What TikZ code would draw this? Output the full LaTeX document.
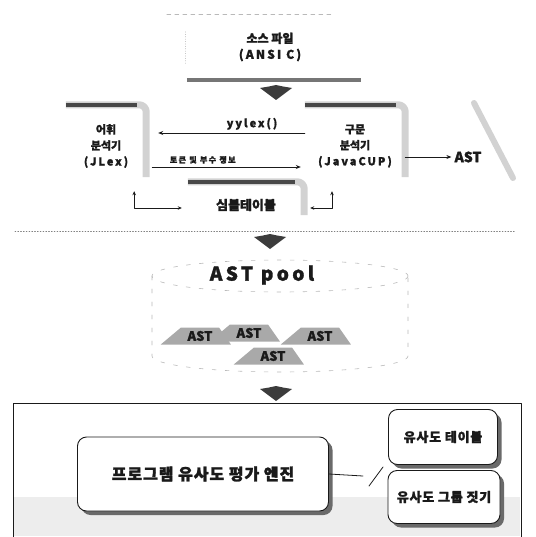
\documentclass[tikz,border=0pt]{standalone}
\usepackage{fontspec}
\setmainfont{Noto Sans CJK KR}[BoldFeatures={FakeBold=1.6}]
\newfontfamily\widelat{Noto Sans CJK KR}[LetterSpace=18, BoldFeatures={FakeBold=1.6}]
\newfontfamily\widekr{Noto Sans CJK KR}[LetterSpace=6, BoldFeatures={FakeBold=1.6}]
\usetikzlibrary{arrows.meta,shapes.geometric,shadows}
\definecolor{ink}{HTML}{1A1A1A}
\definecolor{shade}{HTML}{9A9A9A}
\tikzset{
  every picture/.style={
    line join=round,
    line cap=round,
    >=Stealth,
  },
  txt/.style={font=\bfseries\fontsize{11}{16}\selectfont, align=center, inner sep=0pt, text=ink},
  bevtop/.style={line width=4pt, ink!80, line cap=butt},
  bevside/.style={line width=7pt, shade!45, rounded corners=7pt, line cap=butt},
  link/.style={ink, line width=0.8pt, -{Stealth[length=5pt,width=4pt]}},
  elbow/.style={ink, line width=0.8pt, {Stealth[length=4pt,width=3.5pt]}-{Stealth[length=4pt,width=3.5pt]}},
  pool/.style={gray!55, line width=0.6pt, dash pattern=on 4pt off 9pt},
  pile/.style={trapezium, trapezium left angle=40, trapezium right angle=55, fill=shade!85,
    minimum width=52pt, minimum height=17pt, inner sep=1pt, text=ink,
    font=\bfseries\fontsize{13}{13}\selectfont},
  rbox/.style={draw=ink, line width=0.9pt, rounded corners=9pt, fill=white, align=center,
    text=ink, inner sep=0pt,
    drop shadow={shadow xshift=4pt, shadow yshift=-4pt, fill=ink!65, opacity=1}},
  downchev/.pic={\fill[ink!85] (-16,0) -- (-7,-1.5) -- (0,-3) -- (7,-1.5) -- (16,0) -- (0,12) -- cycle;},
}

\begin{document}
\begin{tikzpicture}[x=1pt,y=-1pt]
\useasboundingbox (0,0) rectangle (535,537);

\node[txt, font=\bfseries\fontsize{12}{16}\selectfont, minimum width=182pt, minimum height=66pt] (src) at (270,47) {소스 파일\\{\widelat\bfseries (ANSI C)}};
\draw[gray!55, dash pattern=on 4pt off 4pt, thin] ([xshift=-12pt]src.north west) -- ([xshift=-28pt]src.north east);
\draw[gray!55, dotted] ([xshift=6pt,yshift=-18pt]src.north west) -- ([xshift=6pt,yshift=16pt]src.south west);
\draw[bevtop, ink!60] ([xshift=8pt]src.south west) -- (src.south east);
\pic at (276,88) {downchev};

\node[txt, minimum width=80pt, minimum height=82pt] (lexer) at (106,146) {어휘\\분석기\\{\widelat\bfseries (JLex)}};
\draw[bevside] (lexer.north west) -- (lexer.north east) -- ([yshift=10pt]lexer.south east);
\draw[bevtop] (lexer.north west) -- ([xshift=-9pt]lexer.north east);

\node[txt, minimum width=100pt, minimum height=82pt] (parser) at (355,146) {구문\\분석기\\{\widelat\bfseries (JavaCUP)}};
\draw[bevside] (parser.north west) -- (parser.north east) -- ([yshift=10pt]parser.south east);
\draw[bevtop] (parser.north west) -- ([xshift=-9pt]parser.north east);

\node[txt, font=\bfseries\fontsize{13}{13}\selectfont, minimum width=116pt, minimum height=46pt] (sym) at (246,205) {심볼테이블};
\draw[bevside] (sym.north west) -- (sym.north east) -- ([yshift=13pt]sym.south east);
\draw[bevtop] (sym.north west) -- ([xshift=-9pt]sym.north east);

\draw[link] ([yshift=13pt]parser.west) -- ([xshift=12pt,yshift=13pt]lexer.east)
  node[pos=0.36, above=3pt, txt, font=\fontsize{11}{11}\selectfont\widelat\bfseries] (yy) {yylex()};
\draw[link] ([xshift=6pt,yshift=-21pt]lexer.east) -- ([xshift=-4pt,yshift=-21pt]parser.west)
  node[pos=0.34, above=3pt, txt, font=\fontsize{8}{8}\selectfont\widelat\bfseries] (tok) {토큰 및 부수 정보};
\draw[elbow] ([xshift=-12pt,yshift=-4pt]lexer.south east) |- ([xshift=-6pt,yshift=-3pt]sym.west);
\draw[elbow] ([xshift=-23pt,yshift=-4pt]parser.south) |- ([xshift=6pt,yshift=-3pt]sym.east);

\node[txt, font=\bfseries\fontsize{14}{14}\selectfont] (astout) at (468,157) {AST};
\draw[link, shorten >=3pt] (parser.east |- astout.west) -- (astout.west);
\draw[shade!45, line width=6pt] (474,103) -- (513,178);

\draw[gray, dotted, line width=0.8pt] (15,231) -- (515,231);
\pic at (270,237) {downchev};

\draw[pool] (280,276) ellipse [x radius=128, y radius=16];
\draw[pool] (152,276) -- (152,356) arc[start angle=180, end angle=0, x radius=128, y radius=16] -- (408,276);
\node[txt, font=\fontsize{19}{19}\selectfont\widelat\bfseries] (poolname) at (262,275) {AST pool};
\node[pile] (ast1) at (200,336) {AST};
\node[pile] (ast2) at (249,333) {AST};
\node[pile] (ast3) at (320,336) {AST};
\node[pile] (ast4) at (273,356) {AST};
\pic at (276,389) {downchev};

\node[draw=ink, line width=0.8pt, minimum width=508pt, minimum height=134pt, inner sep=0pt] (evalarea) at (267,470) {};
\fill[gray!14] ([xshift=1pt,yshift=-94pt]evalarea.north west) rectangle ([xshift=-1pt,yshift=1pt]evalarea.south east);
\node[rbox, minimum width=251pt, minimum height=74pt, font=\fontsize{16}{16}\selectfont\widekr\bfseries] (engine) at (203,474) {프로그램 유사도 평가 엔진};
\node[rbox, minimum width=109pt, minimum height=55pt, font=\fontsize{13}{13}\selectfont\widekr\bfseries] (simtab) at (443,437) {유사도 테이블};
\node[rbox, minimum width=112pt, minimum height=53pt, font=\fontsize{13}{13}\selectfont\widekr\bfseries] (simgrp) at (444,497) {유사도 그룹 짓기};
\coordinate (jn) at (363,476);
\coordinate (sl1) at (369,486);
\coordinate (sl2) at (383,467);
\draw[ink, line width=0.8pt] (engine.east) -- (jn);
\draw[ink, line width=0.8pt] (sl1) -- (sl2);
\end{tikzpicture}
\end{document}
